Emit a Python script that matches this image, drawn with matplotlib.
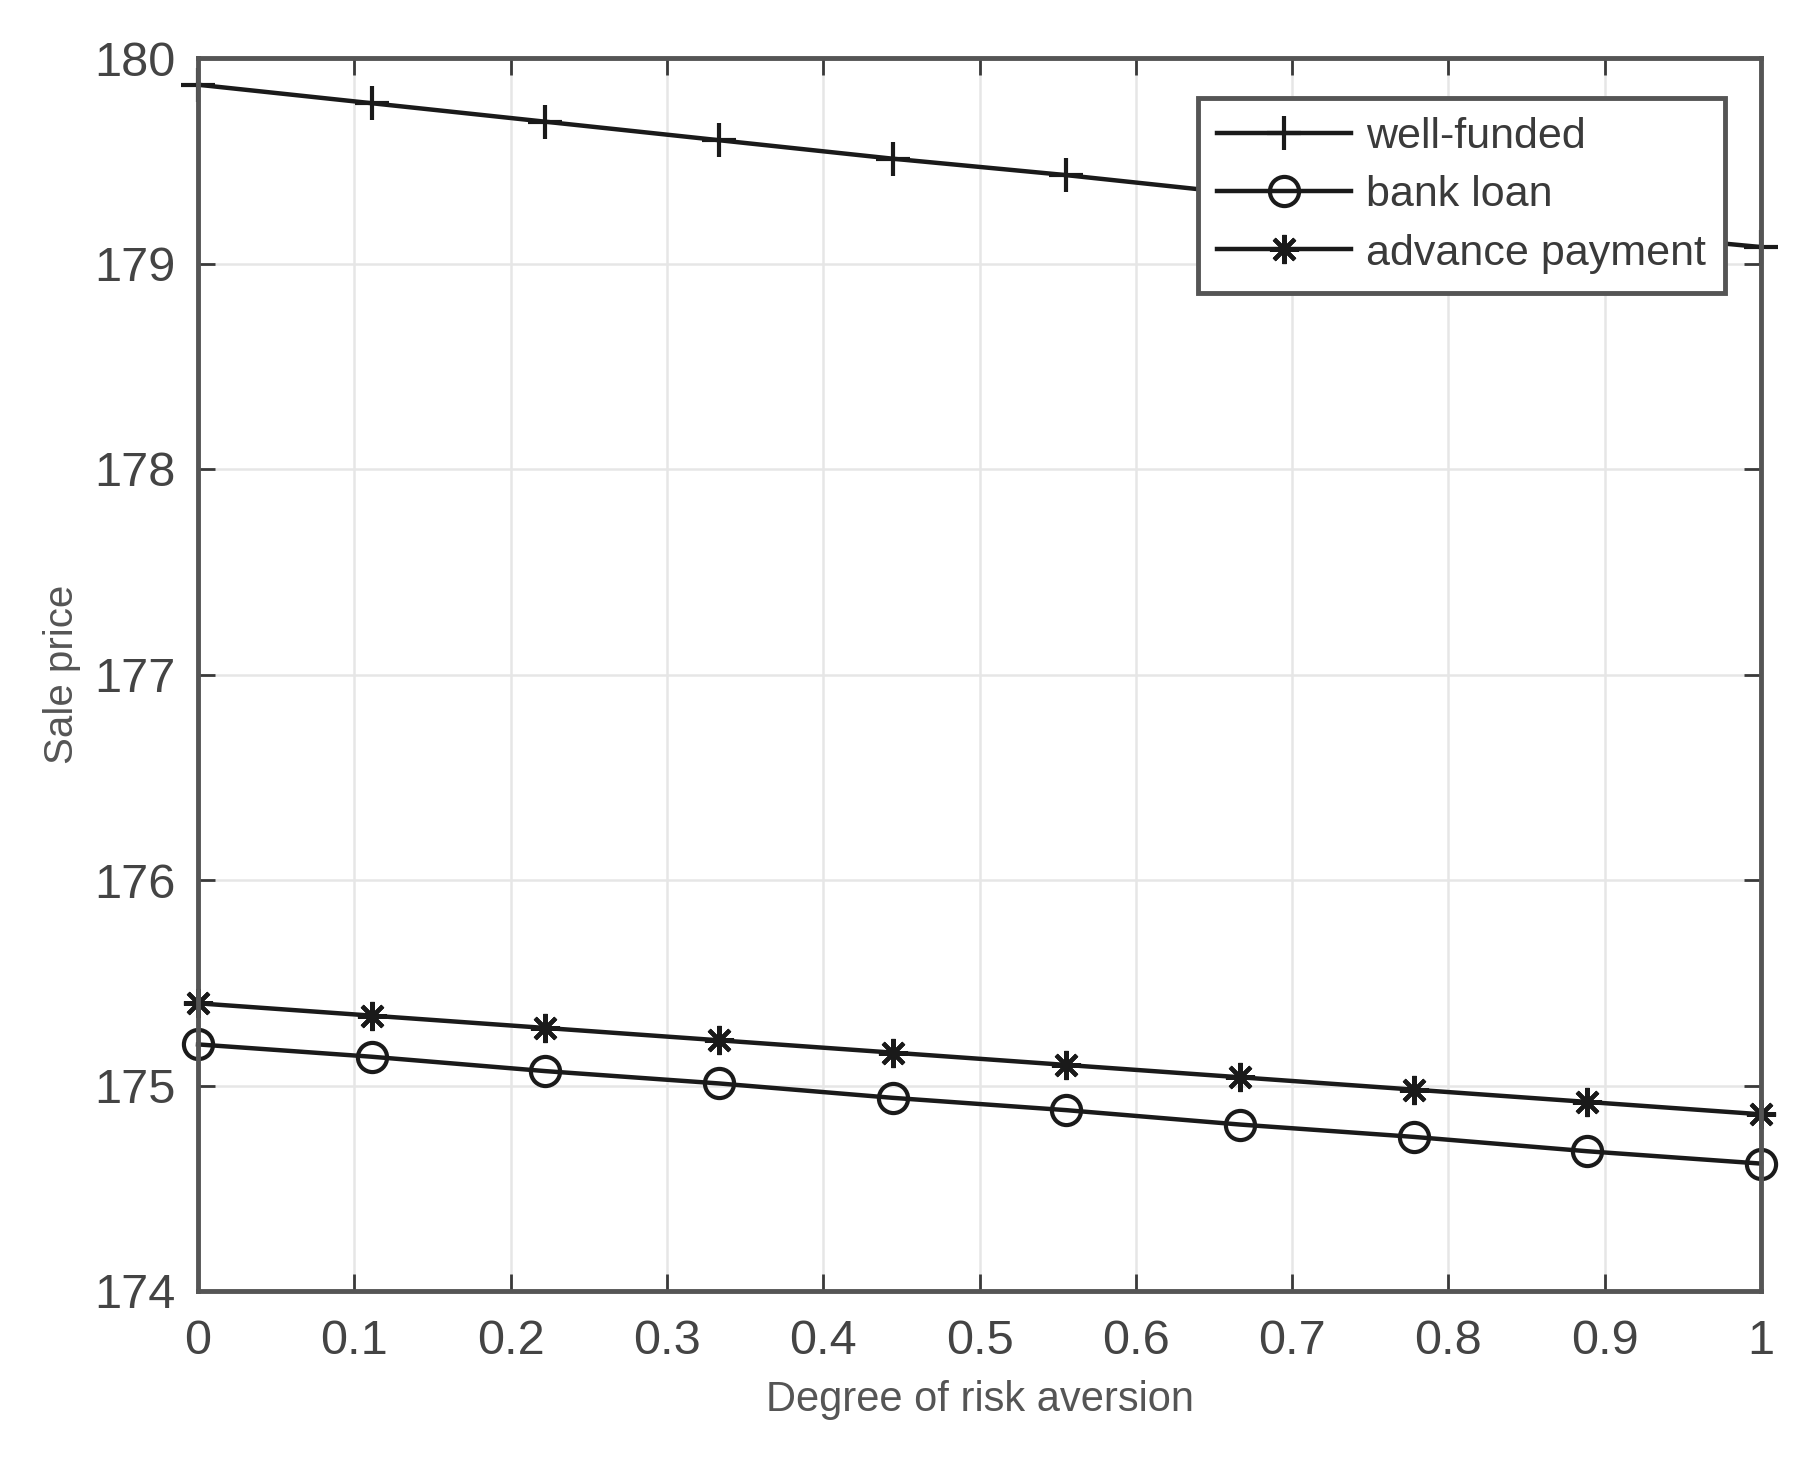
import numpy as np
from matplotlib import pyplot as plt

# degree of risk aversion, 10 evenly spaced points
risk = [0, 1/9, 2/9, 3/9, 4/9, 5/9, 6/9, 7/9, 8/9, 1]
wellFunded = [179.87, 179.78, 179.69, 179.60, 179.51, 179.43, 179.34, 179.25, 179.16, 179.08]
bankLoan = [175.20, 175.14, 175.07, 175.01, 174.94, 174.88, 174.81, 174.75, 174.68, 174.62]
advancePay = [175.40, 175.34, 175.28, 175.22, 175.16, 175.10, 175.04, 174.98, 174.92, 174.86]

xticks = [0, 0.1, 0.2, 0.3, 0.4, 0.5, 0.6, 0.7, 0.8, 0.9, 1]
xtickLabels = ['0', '0.1', '0.2', '0.3', '0.4', '0.5', '0.6', '0.7', '0.8', '0.9', '1']
yticks = [174, 175, 176, 177, 178, 179, 180]

plt.rcParams['font.family'] = ['Liberation Sans', 'DejaVu Sans']

fig = plt.figure(figsize=(18.07, 14.58), dpi=100)
ax = fig.add_axes([198/1807, 1 - 1291/1458, (1761-198)/1807, (1291-58)/1458])

lineKw = dict(color='#1a1a1a', linewidth=3.2, markeredgewidth=3.0, clip_on=False)
ax.plot(risk, wellFunded, marker='+', markersize=24, label='well-funded', **lineKw)
ax.plot(risk, bankLoan, marker='o', markersize=21, markerfacecolor='none',
        label='bank loan', **lineKw)
ax.plot(risk, advancePay, marker=(8, 2, 0), markersize=21,
        label='advance payment', **lineKw)

ax.set_xlim(0, 1)
ax.set_ylim(174, 180)
ax.set_xticks(xticks)
ax.set_xticklabels(xtickLabels)
ax.set_yticks(yticks)
ax.grid(True, color='#e6e6e6', linewidth=1.8)
ax.set_axisbelow(True)
ax.tick_params(direction='in', length=12, width=2, colors='#3a3a3a',
               labelsize=35, top=True, right=True, pad=16, labelcolor='#444444')
ax.tick_params(axis='x', pad=20)
for s in ax.spines.values():
    s.set_color('#555555')
    s.set_linewidth(3.5)

ax.set_xlabel('Degree of risk aversion', fontsize=30, color='#555555', labelpad=12)
ax.set_ylabel('Sale price', fontsize=29, color='#555555', labelpad=10)

leg = ax.legend(loc='upper right', bbox_to_anchor=(1 - (1761-1725)/1563, 1 - (98-58)/1233),
                fontsize=31, frameon=True, fancybox=False, handlelength=3.1,
                borderpad=0.45, labelspacing=0.42, handletextpad=0.35, borderaxespad=0)
leg.get_frame().set_edgecolor('#555555')
leg.get_frame().set_linewidth(3.5)
leg.get_frame().set_alpha(1)
leg.set_zorder(5)
for t in leg.get_texts():
    t.set_color('#3a3a3a')

fig.savefig('out.png', dpi=100)
